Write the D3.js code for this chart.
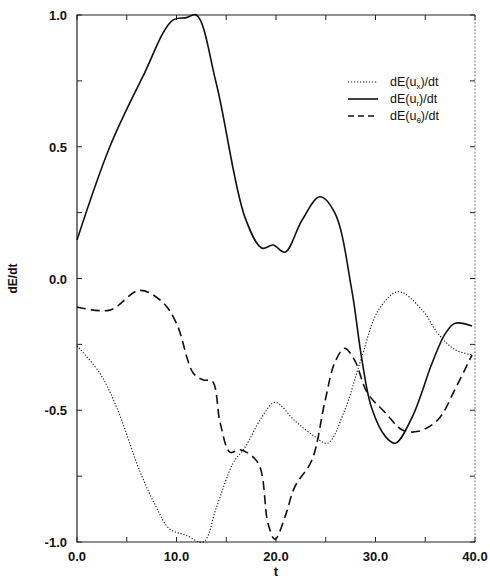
<!DOCTYPE html>
<html>
<head>
<meta charset="utf-8">
<script src="https://cdn.jsdelivr.net/npm/d3@7"></script>
<style>
  body { margin: 0; background: #fff; }
  text { font-family: "Liberation Sans", Arial, sans-serif; fill: #111; }
</style>
</head>
<body>
<div id="chart"></div>
<script>
// time samples for each curve
let tX = [0, 2.3, 4, 6.3, 8, 9.3, 11, 12.7, 14, 15.7, 16.9, 18.6, 19.9, 21.9, 23.9, 25.2, 26.9, 28.6, 30.3, 32.3, 34.7, 36.3, 38, 39.7]
let uX = [-0.255, -0.36, -0.49, -0.73, -0.87, -0.95, -0.975, -1.0, -0.87, -0.70, -0.64, -0.525, -0.47, -0.54, -0.60, -0.625, -0.50, -0.30, -0.12, -0.05, -0.12, -0.21, -0.27, -0.29]

let tR = [0, 3.3, 6.6, 9.6, 11, 12, 14, 16.9, 18.6, 19.7, 20.9, 22.6, 24.4, 25.9, 27.6, 28.6, 29.6, 31, 32, 33.7, 35.7, 37, 38, 39.7]
let uR = [0.146, 0.5, 0.765, 0.98, 0.99, 1.0, 0.74, 0.23, 0.115, 0.127, 0.10, 0.22, 0.31, 0.25, -0.04, -0.30, -0.49, -0.60, -0.625, -0.525, -0.32, -0.21, -0.17, -0.18]

let tT = [0, 3.3, 6.3, 8.6, 10, 11.7, 12.7, 13.6, 14.4, 15.4, 16.4, 18.2, 19.2, 19.9, 20.9, 21.9, 23.6, 24.9, 25.9, 26.9, 27.9, 29.2, 31, 32.7, 34.3, 36.3, 38, 39.7]
let uT = [-0.108, -0.12, -0.045, -0.09, -0.17, -0.36, -0.385, -0.39, -0.55, -0.66, -0.65, -0.70, -0.93, -0.99, -0.905, -0.79, -0.69, -0.47, -0.32, -0.265, -0.31, -0.435, -0.51, -0.575, -0.58, -0.535, -0.42, -0.29]

let xTicks = [0, 10, 20, 30, 40]
let yTicks = [-1, -0.5, 0, 0.5, 1]

let width = 490
let height = 580
let padL = 77, padR = 475, padT = 15, padB = 542

let svg = d3.select("#chart")
  .append("svg")
  .attr("width", width)
  .attr("height", height)

let x = d3.scaleLinear().domain([0, 40]).range([padL, padR])
let y = d3.scaleLinear().domain([-1, 1]).range([padB, padT])

// frame: solid left, top, bottom; faint dotted right edge like the scan
let frame = svg.append("g").attr("fill", "none")
frame.append("path")
  .attr("d", `M${padR},${padT}H${padL}V${padB}H${padR}`)
  .attr("stroke", "#222").attr("stroke-width", 1.2)
frame.append("line")
  .attr("x1", padR).attr("x2", padR).attr("y1", padT).attr("y2", padB)
  .attr("stroke", "#777").attr("stroke-width", 1)
  .attr("stroke-dasharray", "2,1.5")

// inward ticks on all four sides
let xt = d3.range(0, 40.01, 5)
let yt = d3.range(-1, 1.01, 0.25)
let g = svg.append("g").attr("stroke", "#222").attr("stroke-width", 1)
xt.forEach(v => {
  g.append("line").attr("x1", x(v)).attr("x2", x(v)).attr("y1", padB).attr("y2", padB - 5)
  g.append("line").attr("x1", x(v)).attr("x2", x(v)).attr("y1", padT).attr("y2", padT + 5)
})
yt.forEach(v => {
  g.append("line").attr("x1", padL).attr("x2", padL + 5).attr("y1", y(v)).attr("y2", y(v))
  g.append("line").attr("x1", padR).attr("x2", padR - 5).attr("y1", y(v)).attr("y2", y(v))
})

// tick labels
svg.selectAll(".xl").data(xTicks).enter().append("text")
  .attr("x", d => x(d)).attr("y", padB + 19)
  .attr("text-anchor", "middle")
  .style("font-size", "13px").style("font-weight", "bold")
  .text(d => d.toFixed(1))

svg.selectAll(".yl").data(yTicks).enter().append("text")
  .attr("x", padL - 10).attr("y", d => y(d) + 5)
  .attr("text-anchor", "end")
  .style("font-size", "13px").style("font-weight", "bold")
  .text(d => d.toFixed(1))

// axis titles
svg.append("text")
  .attr("x", x(20)).attr("y", 576)
  .attr("text-anchor", "middle")
  .style("font-size", "13px").style("font-weight", "bold")
  .text("t")

svg.append("text")
  .attr("transform", "translate(17," + y(0) + ") rotate(-90)")
  .attr("text-anchor", "middle")
  .style("font-size", "12px").style("font-weight", "bold")
  .text("dE/dt")

// curves
let series = [
  {t: tX, v: uX, dash: "1.2,1.8", w: 1.1, sub: "x"},
  {t: tR, v: uR, dash: null, w: 1.6, sub: "r"},
  {t: tT, v: uT, dash: "9,5", w: 1.6, sub: "θ"}
]

let line = d3.line()
  .x(d => x(d[0]))
  .y(d => y(d[1]))
  .curve(d3.curveCatmullRom.alpha(0.5))

series.forEach(s => {
  svg.append("path")
    .datum(d3.zip(s.t, s.v))
    .attr("d", line)
    .attr("fill", "none")
    .attr("stroke", "#111")
    .attr("stroke-width", s.w)
    .attr("stroke-dasharray", s.dash)
})

// legend
series.forEach((s, i) => {
  let ly = 82 + i * 17
  svg.append("line")
    .attr("x1", 348).attr("x2", 378).attr("y1", ly).attr("y2", ly)
    .attr("stroke", "#111").attr("stroke-width", s.w)
    .attr("stroke-dasharray", s.dash ? (i == 2 ? "6,4" : s.dash) : null)
  let t = svg.append("text").attr("x", 390).attr("y", ly + 4).style("font-size", "12.5px")
  t.append("tspan").text("dE(u")
  t.append("tspan").attr("dy", 3).style("font-size", "8px").text(s.sub)
  t.append("tspan").attr("dy", -3).text(")/dt")
})
</script>
</body>
</html>
